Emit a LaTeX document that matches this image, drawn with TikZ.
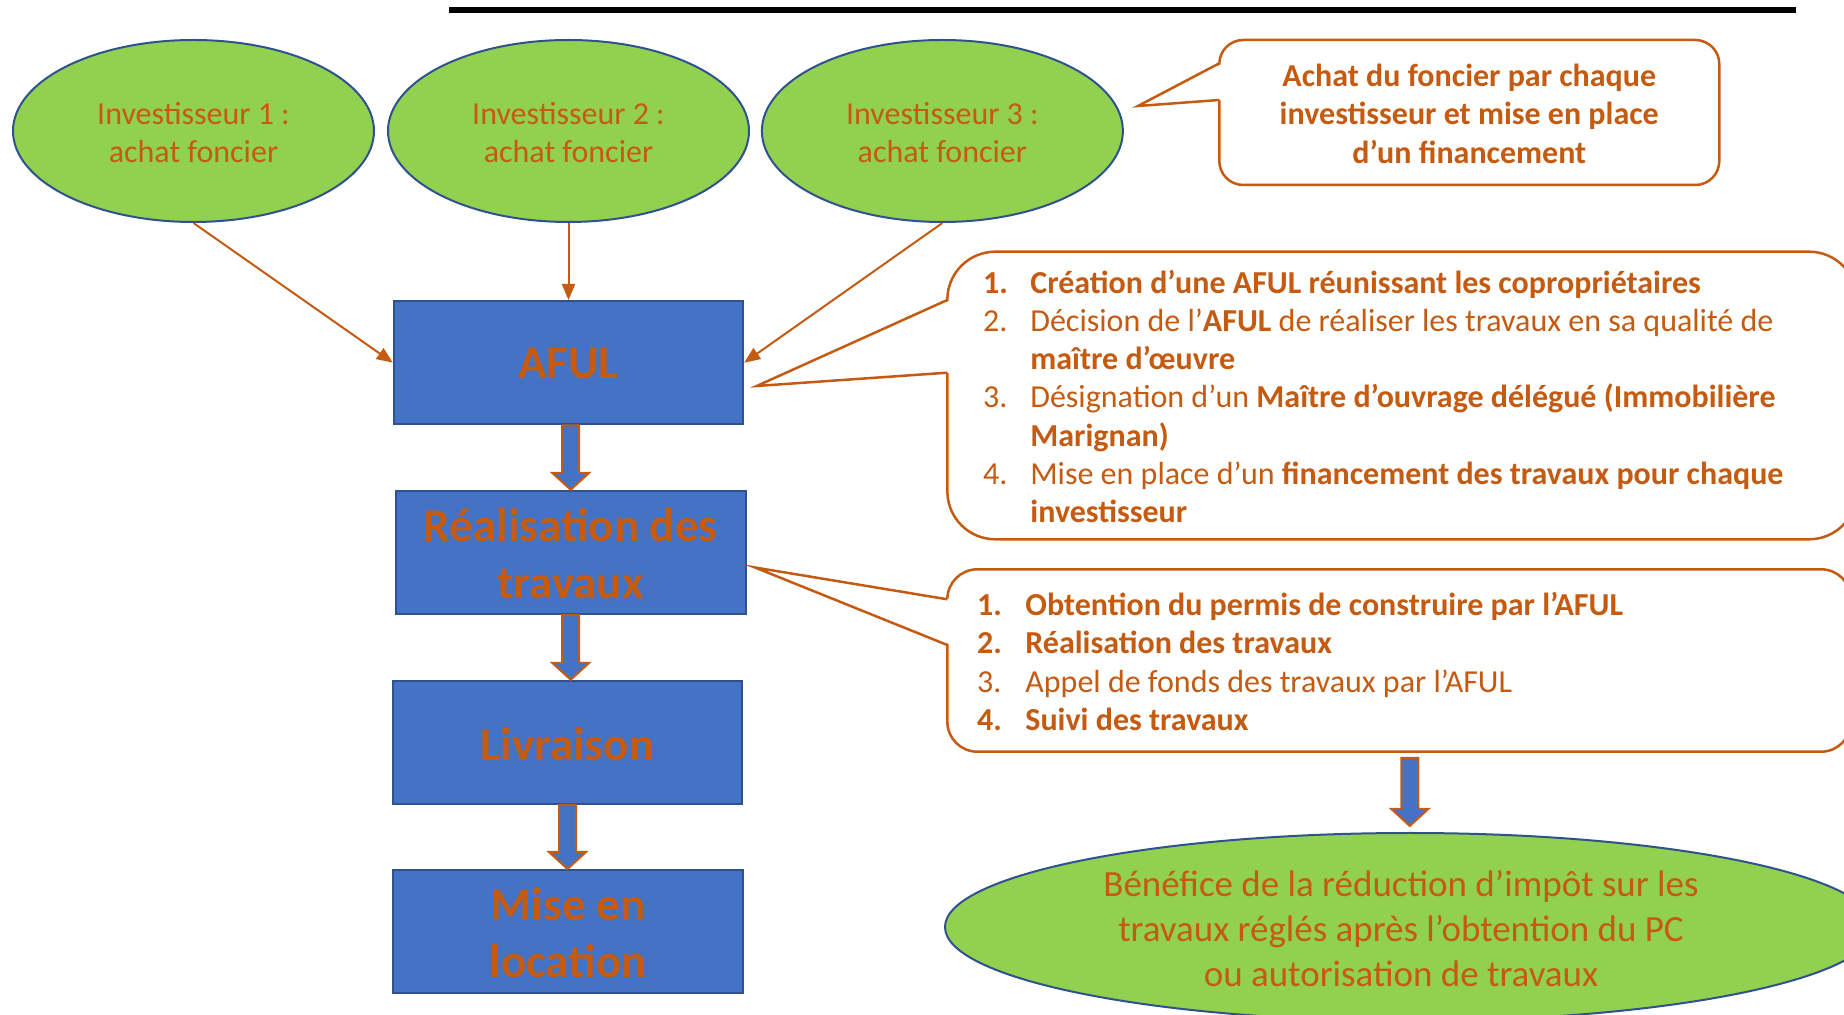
\documentclass[tikz,border=0pt]{standalone}
\usepackage{fontspec}
\setmainfont{Carlito}
\usetikzlibrary{shapes.geometric,arrows.meta,calc}
\definecolor{org}{HTML}{C55A11}
\definecolor{grn}{HTML}{92D050}
\definecolor{blu}{HTML}{4472C4}
\definecolor{dblu}{HTML}{2F528F}
\newcommand\blockarrow[2]{%
  \draw[barrow] let \p1=(#1), \p2=(#2) in
    (\x1-4.25pt,\y1) -- (\x1+4.25pt,\y1) -- (\x1+4.25pt,\y2+8.5pt) --
    (\x1+9.25pt,\y2+8.5pt) -- (\x1,\y2) -- (\x1-9.25pt,\y2+8.5pt) --
    (\x1-4.25pt,\y2+8.5pt) -- cycle;}
\begin{document}
\begin{tikzpicture}[x=0.5pt,y=-0.5pt,
  inv/.style={ellipse, draw=dblu, line width=1pt, fill=grn, minimum width=180.5pt,
    minimum height=91pt, inner sep=0pt},
  invtxt/.style={inner sep=0pt, text=org, align=center, yshift=-0.9pt,
    font=\fontsize{16}{19}\selectfont},
  stepbox/.style={rectangle, draw=dblu, line width=1pt, fill=blu, minimum width=174.7pt,
    minimum height=61.7pt, inner sep=0pt},
  steptxt/.style={inner sep=0pt, text=org, align=center, yshift=-0.6pt,
    font=\bfseries\fontsize{23.5}{28.5}\selectfont},
  conn/.style={draw=org, line width=1pt, -{Triangle[length=8pt,width=6.5pt]}},
  barrow/.style={fill=blu, draw=org, line width=1pt, line join=miter},
  cbox/.style={rectangle, draw=org, line width=1.25pt, fill=white, inner sep=0pt},
  wedge/.style={draw=org, line width=1.25pt, line join=miter},
  ltxt/.style={anchor=base west, inner sep=0pt, text=org,
    font=\fontsize{16}{19.15}\selectfont},
]
\useasboundingbox (0,0) rectangle (1844,1015);
\clip (0,0) rectangle (1844,1015);

% top rule
\draw[line width=3pt] (449,10.3) -- (1796,10.3);

% investors
\node[inv] (i1) at (193.5,131) {};
\node[invtxt] (i1t) at (i1) {Investisseur 1 :\\achat foncier};
\node[inv] (i2) at (568.5,131) {};
\node[invtxt] (i2t) at (i2) {Investisseur 2 :\\achat foncier};
\node[inv] (i3) at (942.4,131) {};
\node[invtxt] (i3t) at (i3) {Investisseur 3 :\\achat foncier};

% main steps
\node[stepbox] (afu) at (568.5,362.7) {};
\node[steptxt] (afut) at (afu) {AFUL};
\node[stepbox, minimum width=175pt] (rea) at (570.7,552.5) {};
\node[steptxt] (reat) at (rea) {Réalisation des\\travaux};
\node[stepbox] (liv) at (567.5,742.5) {};
\node[steptxt] (livt) at (liv) {Livraison};
\node[stepbox] (mel) at (568,931.7) {};
\node[steptxt] (melt) at (mel) {Mise en\\location};

% connectors
\draw[conn] (i1.south) -- (afu.west);
\draw[conn] (i2.south) -- (afu.north);
\draw[conn] (i3.south) -- (afu.east);

\blockarrow{afu.south -| rea.north}{rea.north}
\blockarrow{rea.south}{rea.south |- liv.north}
\blockarrow{liv.south}{liv.south |- mel.north}

% callout 1
\node[cbox, rounded corners=12pt, minimum width=250pt, minimum height=72.5pt] (cb1) at (1469.3,112.5) {};
\coordinate (w1) at (1138,106);
\fill[white] (1223,63.3) -- (w1) -- (1223,100) -- cycle;
\draw[wedge] (1219.3,63.3) -- (w1) -- (1219.3,100);
\node[inner sep=0pt, align=center, text=org, yshift=-0.6pt,
  font=\bfseries\fontsize{16}{19.15}\selectfont] (cb1t) at (cb1)
  {Achat du foncier par chaque\\investisseur et mise en place\\d’un financement};

% callout 2
\node[cbox, rounded corners=24pt, minimum width=454.85pt, minimum height=143.8pt] (cb2) at (1402.2,395.5) {};
\coordinate (w2) at (756.7,386);
\fill[white] (951,300) -- (w2) -- (951,372.7) -- cycle;
\draw[wedge] (947.3,300) -- (w2) -- (947.3,372.7);
\node[ltxt] (l2) at (982.7,293.1) {\begin{tabular}[t]{@{}p{23.65pt}@{}l@{}}
\textbf{1.} & \textbf{Création d’une AFUL réunissant les copropriétaires}\\
2. & Décision de l’\textbf{AFUL} de réaliser les travaux en sa qualité de\\
 & \textbf{maître d’œuvre}\\
3. & Désignation d’un \textbf{Maître d’ouvrage délégué (Immobilière}\\
 & \textbf{Marignan)}\\
4. & Mise en place d’un \textbf{financement des travaux pour chaque}\\
 & \textbf{investisseur}
\end{tabular}};

% callout 3
\node[cbox, rounded corners=15pt, minimum width=451.85pt, minimum height=91.2pt] (cb3) at (1399.2,660.5) {};
\coordinate (w3) at (755,567.5);
\fill[white] (951,599.3) -- (w3) -- (951,645) -- cycle;
\draw[wedge] (947.3,599.3) -- (w3) -- (947.3,645);
\node[ltxt] (l3) at (976.7,615.7) {\begin{tabular}[t]{@{}p{24.15pt}@{}l@{}}
\textbf{1.} & \textbf{Obtention du permis de construire par l’AFUL}\\
\textbf{2.} & \textbf{Réalisation des travaux}\\
3. & Appel de fonds des travaux par l’AFUL\\
\textbf{4.} & \textbf{Suivi des travaux}
\end{tabular}};

% result
\node[ellipse, draw=dblu, line width=1pt, fill=grn, minimum width=465pt, minimum height=94pt,
  inner sep=0pt] (bene) at (1410,927) {};
\node[text=org, align=center, inner sep=0pt, font=\fontsize{18.5}{22.5}\selectfont] (benetxt)
  at (1401,929) {Bénéfice de la réduction d’impôt sur les\\travaux réglés après l’obtention du PC\\ou autorisation de travaux};
\coordinate (ba) at (1409.8,758);
\coordinate (bt) at ($(bene.north)+(0,-6)$);
\blockarrow{ba}{bt}
\end{tikzpicture}
\end{document}
